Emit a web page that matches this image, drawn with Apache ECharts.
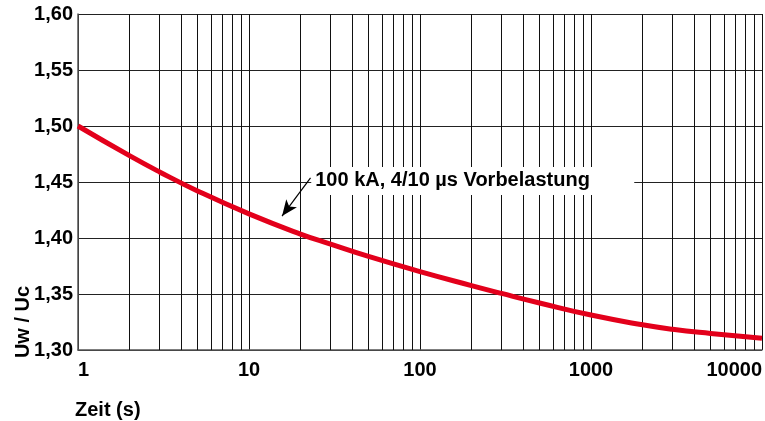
<!DOCTYPE html>
<html>
<head>
<meta charset="utf-8">
<script src="https://cdn.jsdelivr.net/npm/echarts@6/dist/echarts.min.js"></script>
<style>
html,body{margin:0;padding:0;background:#fff;}
#chart{width:765px;height:421px;}
</style>
</head>
<body>
<div id="chart"></div>
<script>
// ---- data ----
const timeSeconds = [1,2,3,5,10,20,30,50,100,200,300,500,1000,2000,3000,5000,10000];
const ratioUwUc  = [1.500,1.4735,1.459,1.442,1.4215,1.4035,1.3945,1.3835,1.370,1.3575,1.3505,1.342,1.3312,1.3225,1.3185,1.3148,1.3104];
const xMinorGrid = [2,3,4,5,6,7,8,9,20,30,40,50,60,70,80,90,200,300,400,500,600,700,800,900,2000,3000,4000,5000,6000,7000,8000,9000];
const yTicks = {min:1.30, max:1.60, step:0.05};
const xRange = {min:1, max:10000};
const annotationText = '100 kA, 4/10 µs Vorbelastung';
const annotationAnchor = [24.4, 1.451];
const arrowFrom = [22.9, 1.4536];
const arrowTo = [15.6, 1.4196];
const yAxisTitle = 'Uw / Uc';
const xAxisTitle = 'Zeit (s)';

const FONT = '"Liberation Sans", Arial, Helvetica, sans-serif';
const chart = echarts.init(document.getElementById('chart'), null, {renderer:'canvas'});

const option = {
  animation:false,
  backgroundColor:'#fff',
  grid:{left:78, right:1, top:14, bottom:71, containLabel:false},
  xAxis:{
    type:'log', logBase:10, min:xRange.min, max:xRange.max,
    axisLine:{show:true, lineStyle:{color:'#555', width:1.5}},
    axisTick:{show:false},
    axisLabel:{fontSize:20, fontWeight:'bold', color:'#000', fontFamily:FONT, margin:10,
      alignMinLabel:'left', alignMaxLabel:'right',
      formatter:v=>String(Math.round(v))},
    splitLine:{show:true, lineStyle:{color:'#111', width:1}}
  },
  yAxis:{
    type:'value', min:yTicks.min, max:yTicks.max, interval:yTicks.step,
    axisLine:{show:true, lineStyle:{color:'#555', width:1.5}},
    axisTick:{show:false},
    axisLabel:{fontSize:20, fontWeight:'bold', color:'#000', fontFamily:FONT, margin:5,
      formatter:v=>v.toFixed(2).replace('.',',')},
    splitLine:{show:true, lineStyle:{color:'#222', width:1}}
  },
  series:[
    {
      type:'line', data:[], silent:true,
      markLine:{
        silent:true, symbol:'none', animation:false,
        label:{show:false},
        lineStyle:{type:'solid', color:'#111', width:1},
        data: xMinorGrid.map(v=>({xAxis:v}))
      }
    },
    {
      type:'line', smooth:true, showSymbol:false, symbol:'none',
      data: timeSeconds.map((t,i)=>[t, ratioUwUc[i]]),
      lineStyle:{color:'#e3001b', width:5},
      z:5
    },
    {
      type:'line', data:[], silent:true, z:20,
      markLine:{
        silent:true, animation:false, label:{show:false},
        symbol:['none','arrow'], symbolSize:[10,16],
        lineStyle:{type:'solid', color:'#000', width:1.2},
        data:[[{coord:arrowFrom},{coord:arrowTo}]]
      }
    }
  ]
};
chart.setOption(option);

const a = chart.convertToPixel({gridIndex:0}, annotationAnchor);
const g0 = chart.convertToPixel({gridIndex:0}, [xRange.min, yTicks.min]);
chart.setOption({
  graphic:[
    {type:'rect', z:10, shape:{x:a[0]-4, y:a[1]-14, width:323, height:28}, style:{fill:'#fff'}},
    {type:'text', z:11, x:a[0], y:a[1], style:{text:annotationText, fontSize:20, fontWeight:'bold', fontFamily:FONT, fill:'#000', align:'left', verticalAlign:'middle'}},
    {type:'text', z:11, x:23, y:322, rotation:Math.PI/2, style:{text:yAxisTitle, fontSize:20, fontWeight:'bold', fontFamily:FONT, fill:'#000', align:'center', verticalAlign:'middle'}},
    {type:'text', z:11, x:g0[0]-3, y:410, style:{text:xAxisTitle, fontSize:20, fontWeight:'bold', fontFamily:FONT, fill:'#000', align:'left', verticalAlign:'middle'}}
  ]
});
</script>
</body>
</html>
